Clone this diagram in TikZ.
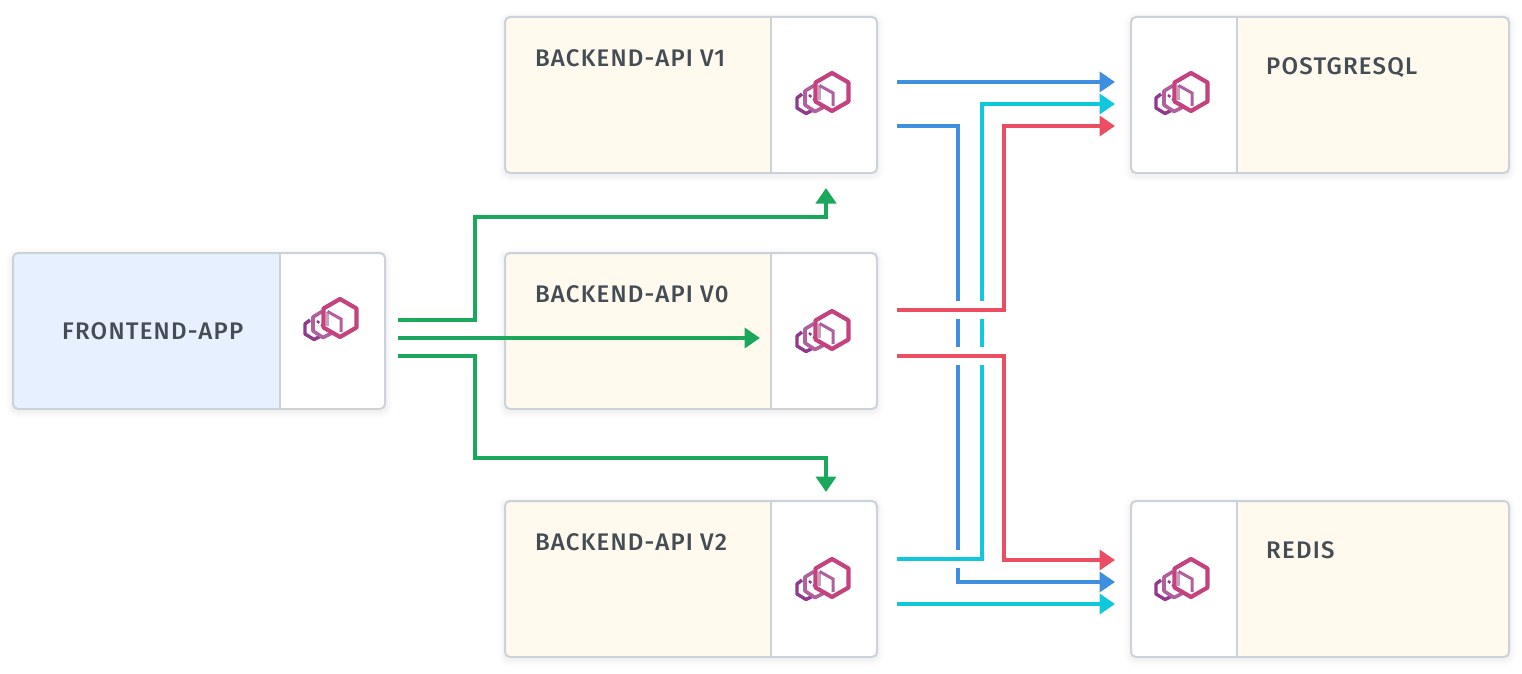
\documentclass[tikz,border=0pt]{standalone}
\usepackage{fontspec}
\setmainfont[LetterSpace=5]{Fira Sans Medium}
\usetikzlibrary{arrows.meta}
\definecolor{panelblue}{HTML}{E7F0FE}
\definecolor{panelcream}{HTML}{FFFAED}
\definecolor{edgegray}{HTML}{CBD2D9}
\definecolor{labelgray}{HTML}{454D54}
\definecolor{linegreen}{HTML}{1BA85C}
\definecolor{lineblue}{HTML}{3F8FE0}
\definecolor{linecyan}{HTML}{10C8DC}
\definecolor{linered}{HTML}{EB4D63}
\definecolor{hexlarge}{HTML}{C4437F}
\definecolor{hexmiddle}{HTML}{B0609C}
\definecolor{hexsmall}{HTML}{8F3A8C}
\definecolor{hexinner}{HTML}{C9A0BC}
\tikzset{
  appbox/.style={rectangle,rounded corners=5,inner sep=0,minimum height=156,
    preaction={draw=black,draw opacity=.012,line width=14,transform canvas={yshift=-2pt}},
    preaction={draw=black,draw opacity=.015,line width=9,transform canvas={yshift=-2pt}},
    preaction={draw=black,draw opacity=.02,line width=5,transform canvas={yshift=-2pt}}},
  appedge/.style={draw=edgegray,line width=2,rounded corners=5,inner sep=0,minimum height=156,fill=none},
  sidecar/.style={rectangle,inner sep=0,minimum height=156},
  applabel/.style={anchor=base west,inner sep=0,text=labelgray,font=\fontsize{24}{28}\selectfont},
  wire/.style={line width=4,-{Triangle[length=15.5,width=20]}},
  halo/.style={preaction={draw=white,line width=18,arrows=-}},
  envoy/.pic={
    \draw[hexsmall,line width=3.4,line join=round] (-30,2) -- (-35,6) -- (-35,16) -- (-26,21.5) -- (-19,18);
    \draw[hexmiddle,line width=3.6,line join=round] (-18,-6.5) -- (-27,-1) -- (-27,13) -- (-17,19.5) -- (-8,15);
    \draw[hexsmall,line width=2.4,dash pattern=on 3 off 2.5] (-23,3) -- (-17,8);
    \draw[hexinner,line width=3] (-12.5,-6.5) -- (-12.5,8);
    \draw[hexmiddle,line width=3] (-12.5,-6.5) -- (1,1) -- (1,14);
    \draw[hexlarge,line width=4.2,line join=round] (0,-19) -- (16.5,-9.5) -- (16.5,9.5) -- (0,19) -- (-16.5,9.5) -- (-16.5,-9.5) -- cycle;
  }
}
\begin{document}
\begin{tikzpicture}[x=1pt,y=-1pt]
\useasboundingbox (0,0) rectangle (1522,674);
% frontend
\node[appbox,fill=panelblue,minimum width=372] (frontend) at (199,331) {};
\node[sidecar,minimum width=105,anchor=east] (frontendside) at (frontend.east) {};
\fill[white] (frontendside.north west) [rounded corners=5] -- (frontendside.north east) -- (frontendside.south east) [sharp corners] -- (frontendside.south west) -- cycle;
\node[appedge,minimum width=372] (frontendedge) at (frontend) {};
\draw[edgegray,line width=2] (frontendside.north west) -- (frontendside.south west);
\node[applabel] (frontendlabel) at (62,339.5) {FRONTEND-APP};
\pic at (340,318) {envoy};
% backends
\node[appbox,fill=panelcream,minimum width=372] (apiv1) at (691,95) {};
\node[sidecar,minimum width=106,anchor=east] (apiv1side) at (apiv1.east) {};
\fill[white] (apiv1side.north west) [rounded corners=5] -- (apiv1side.north east) -- (apiv1side.south east) [sharp corners] -- (apiv1side.south west) -- cycle;
\node[appedge,minimum width=372] (apiv1edge) at (apiv1) {};
\draw[edgegray,line width=2] (apiv1side.north west) -- (apiv1side.south west);
\node[applabel] (apiv1label) at (535,67) {BACKEND-API V1};
\pic at (832,92) {envoy};
\node[appbox,fill=panelcream,minimum width=372] (apiv0) at (691,331) {};
\node[sidecar,minimum width=106,anchor=east] (apiv0side) at (apiv0.east) {};
\fill[white] (apiv0side.north west) [rounded corners=5] -- (apiv0side.north east) -- (apiv0side.south east) [sharp corners] -- (apiv0side.south west) -- cycle;
\node[appedge,minimum width=372] (apiv0edge) at (apiv0) {};
\draw[edgegray,line width=2] (apiv0side.north west) -- (apiv0side.south west);
\node[applabel] (apiv0label) at (535,302.5) {BACKEND-API V0};
\pic at (832,330) {envoy};
\node[appbox,fill=panelcream,minimum width=372] (apiv2) at (691,579) {};
\node[sidecar,minimum width=106,anchor=east] (apiv2side) at (apiv2.east) {};
\fill[white] (apiv2side.north west) [rounded corners=5] -- (apiv2side.north east) -- (apiv2side.south east) [sharp corners] -- (apiv2side.south west) -- cycle;
\node[appedge,minimum width=372] (apiv2edge) at (apiv2) {};
\draw[edgegray,line width=2] (apiv2side.north west) -- (apiv2side.south west);
\node[applabel] (apiv2label) at (535,550.5) {BACKEND-API V2};
\pic at (832,578) {envoy};
% stores
\node[appbox,fill=panelcream,minimum width=378] (postgres) at (1320,95) {};
\node[sidecar,minimum width=106,anchor=west] (postgresside) at (postgres.west) {};
\fill[white] (postgresside.north east) [rounded corners=5] -- (postgresside.north west) -- (postgresside.south west) [sharp corners] -- (postgresside.south east) -- cycle;
\node[appedge,minimum width=378] (postgresedge) at (postgres) {};
\draw[edgegray,line width=2] (postgresside.north east) -- (postgresside.south east);
\node[applabel] (postgreslabel) at (1266,75) {POSTGRESQL};
\pic at (1191,92) {envoy};
\node[appbox,fill=panelcream,minimum width=378] (redis) at (1320,579) {};
\node[sidecar,minimum width=106,anchor=west] (redisside) at (redis.west) {};
\fill[white] (redisside.north east) [rounded corners=5] -- (redisside.north west) -- (redisside.south west) [sharp corners] -- (redisside.south east) -- cycle;
\node[appedge,minimum width=378] (redisedge) at (redis) {};
\draw[edgegray,line width=2] (redisside.north east) -- (redisside.south east);
\node[applabel] (redislabel) at (1266,558.5) {REDIS};
\pic at (1191,578) {envoy};
% free ends
\coordinate (feoutv1) at (398,320);
\coordinate (feoutv0) at (398,338);
\coordinate (feoutv2) at (398,356);
\coordinate (v1in) at (826,188);
\coordinate (v0in) at (760,338);
\coordinate (v2in) at (826,492);
\coordinate (v1outpg) at (897,82);
\coordinate (v1outredis) at (897,126);
\coordinate (v0outpg) at (897,310);
\coordinate (v0outredis) at (897,356);
\coordinate (v2outpg) at (897,559);
\coordinate (v2outredis) at (897,604);
\coordinate (pginblue) at (1115,82);
\coordinate (pgincyan) at (1115,104);
\coordinate (pginred) at (1115,126);
\coordinate (redisinred) at (1115,560);
\coordinate (redisinblue) at (1115,582);
\coordinate (redisincyan) at (1115,604);
% frontend to backends
\draw[wire,linegreen] (feoutv1) -| (475,217) -| (v1in);
\draw[wire,linegreen] (feoutv0) -- (v0in);
\draw[wire,linegreen] (feoutv2) -| (475,458) -| (v2in);
% backends to stores
\draw[wire,lineblue] (v1outpg) -- (pginblue);
\draw[wire,lineblue] (v1outredis) -| (958,582) -- (redisinblue);
\draw[wire,linecyan,halo] (v2outpg) -| (982,104) -- (pgincyan);
\draw[wire,linecyan] (v2outredis) -- (redisincyan);
\draw[wire,linered,halo] (v0outpg) -| (1003.5,126) -- (pginred);
\draw[wire,linered,halo] (v0outredis) -| (1003.5,560) -- (redisinred);
\end{tikzpicture}
\end{document}
